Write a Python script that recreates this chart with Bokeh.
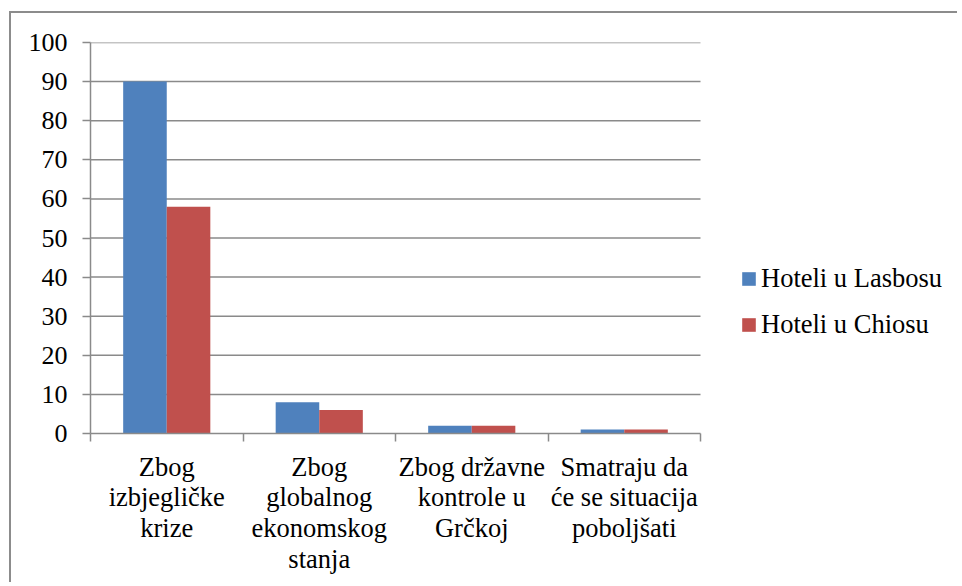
from bokeh.plotting import figure
from bokeh.models import FixedTicker, Legend, LegendItem, Range1d
from bokeh.embed import file_html
from bokeh.resources import INLINE

categories = ["Zbog\nizbjegličke\nkrize",
              "Zbog\nglobalnog\nekonomskog\nstanja",
              "Zbog državne\nkontrole u\nGrčkoj",
              "Smatraju da\nće se situacija\npoboljšati"]
series_names = ["Hoteli u Lasbosu", "Hoteli u Chiosu"]
lasbos = [90, 8, 2, 1]
chios = [58, 6, 2, 1]
y_ticks = [0, 10, 20, 30, 40, 50, 60, 70, 80, 90, 100]
colors = ["#4F81BD", "#C0504D"]

FONT = "'Liberation Serif', serif"
FS = "26px"
FS2 = "26.5px"
GRAY = "#8a8a8a"

W, H = 948, 571
ox, oy = 11, 13  # canvas origin on page
fl, fr, ft, fb = 90, 700, 42, 433
frame_w = (ox + W) - fl
n = len(categories)
x_end = n * frame_w / (fr - fl)

p = figure(width=W, height=H, output_backend="svg", toolbar_location=None,
           x_range=Range1d(0, x_end), y_range=Range1d(0, 100),
           min_border_left=fl - ox, min_border_right=0,
           min_border_top=ft - oy, min_border_bottom=H - (fb - oy))
p.outline_line_color = None
p.styles = {"margin-left": "9px", "margin-top": "11px",
            "border-left": "2px solid #8c8c8c", "border-top": "2px solid #8c8c8c"}

# horizontal grid lines limited to the category area
p.segment(x0=0, x1=n, y0=y_ticks[1:], y1=y_ticks[1:], line_color=GRAY, line_width=1.5)

bw = 1.0 / 3.5
centers = [i + 0.5 for i in range(n)]
r1 = p.vbar(x=[c - bw / 2 for c in centers], top=lasbos, bottom=0, width=bw,
            fill_color=colors[0], line_color=None)
r2 = p.vbar(x=[c + bw / 2 for c in centers], top=chios, bottom=0, width=bw,
            fill_color=colors[1], line_color=None)

# x axis
p.xaxis.bounds = (0, n)
p.xaxis.ticker = FixedTicker(ticks=centers, minor_ticks=list(range(n + 1)))
p.xaxis.major_label_overrides = {c: lab for c, lab in zip(centers, categories)}
p.xaxis.major_tick_out = 0
p.xaxis.major_tick_in = 0
p.xaxis.minor_tick_out = 8
p.xaxis.minor_tick_in = 0
p.xaxis.minor_tick_line_color = GRAY
p.xaxis.minor_tick_line_width = 1.5
p.xaxis.axis_line_color = GRAY
p.xaxis.axis_line_width = 1.5
p.xaxis.major_label_text_font = FONT
p.xaxis.major_label_text_font_size = FS2
p.xaxis.major_label_text_color = "black"
p.xaxis.major_label_standoff = 10
p.xaxis.major_label_text_line_height = 1.03
p.xgrid.grid_line_color = None

# y axis
p.yaxis.ticker = FixedTicker(ticks=y_ticks)
p.yaxis.major_tick_out = 8
p.yaxis.major_tick_in = 0
p.yaxis.minor_tick_line_color = None
p.yaxis.major_tick_line_color = GRAY
p.yaxis.major_tick_line_width = 1.5
p.yaxis.axis_line_color = GRAY
p.yaxis.axis_line_width = 1.5
p.yaxis.major_label_text_font = FONT
p.yaxis.major_label_text_font_size = FS
p.yaxis.major_label_text_color = "black"
p.yaxis.major_label_standoff = 15
p.ygrid.grid_line_color = None

legend = Legend(items=[LegendItem(label=series_names[0], renderers=[r1]),
                       LegendItem(label=series_names[1], renderers=[r2])],
                location=(650, 93), orientation="vertical")
legend.border_line_color = None
legend.background_fill_alpha = 0
legend.padding = 0
legend.margin = 0
legend.glyph_width = 17
legend.glyph_height = 17
legend.label_standoff = 4
legend.spacing = 15
legend.label_text_font = FONT
legend.label_text_font_size = FS2
legend.label_text_color = "black"
p.add_layout(legend, "center")

open("out.html", "w").write(file_html(p, INLINE))
